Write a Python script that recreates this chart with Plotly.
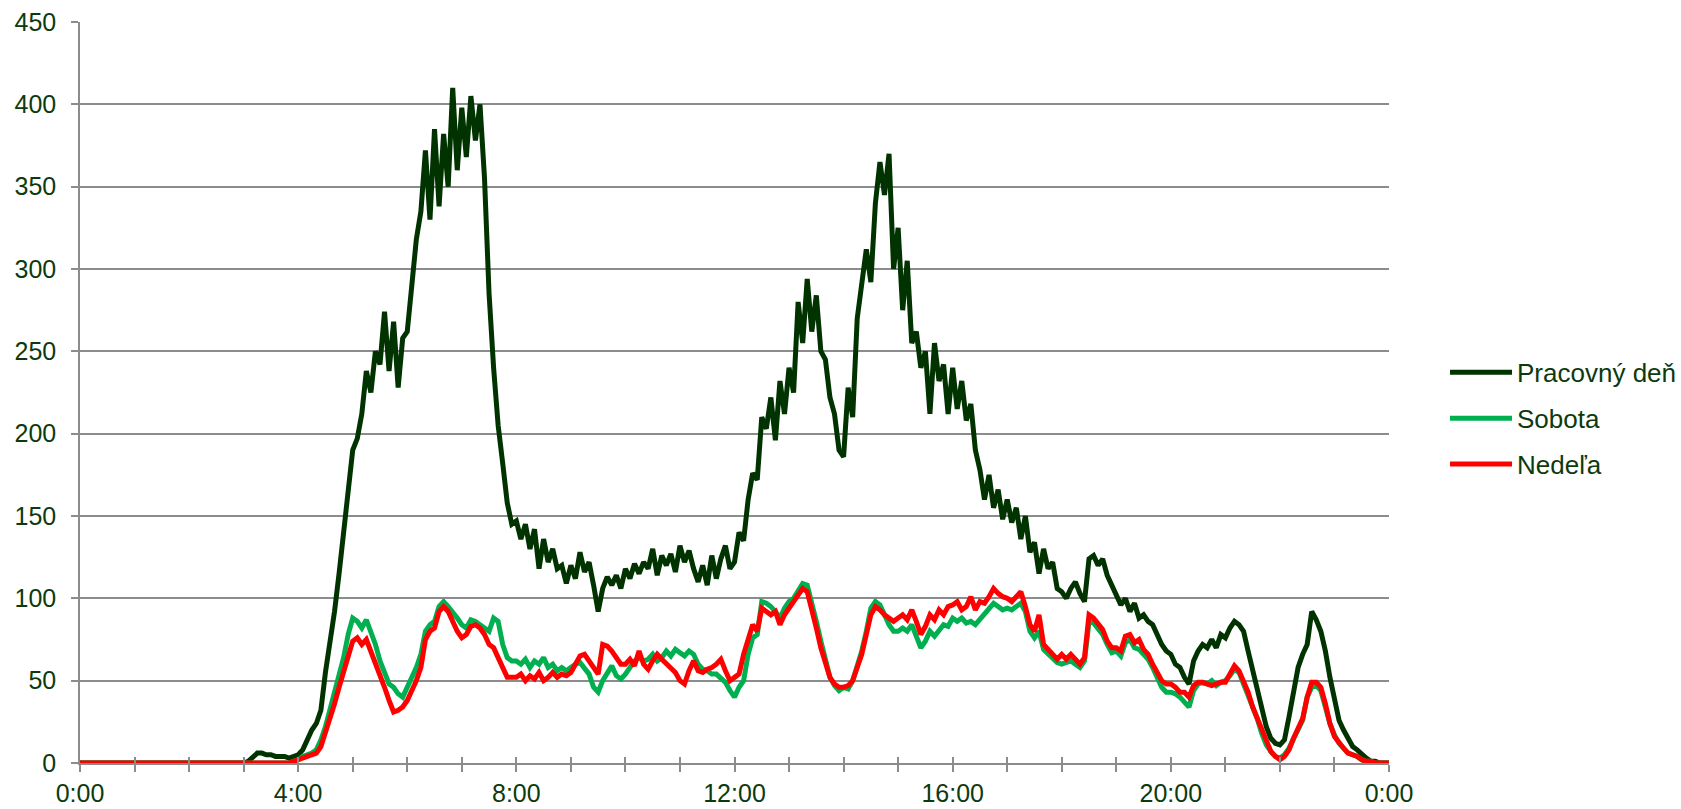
import plotly.graph_objects as go

# 5-minute samples, 12 per hour (:00, :05, ... :55), plus the closing 24:00 point
pracovny_den = [
    0,0,0,0,0,0,0,0,0,0,0,0,                      # 0h
    0,0,0,0,0,0,0,0,0,0,0,0,                      # 1h
    0,0,0,0,0,0,0,0,0,0,0,0,                      # 2h
    0,1,4,6,6,5,5,4,4,4,3,4,                      # 3h
    5,8,14,20,24,32,55,72,92,115,140,168,         # 4h
    190,197,212,238,225,250,242,274,238,268,228,258,  # 5h
    262,290,318,335,372,330,385,338,382,350,410,360,  # 6h
    398,368,405,378,400,355,285,240,205,182,158,145,  # 7h
    147,136,145,130,142,118,136,122,130,118,120,109,  # 8h
    120,112,128,116,122,108,92,106,113,108,114,106,   # 9h
    118,112,121,115,122,118,130,114,126,120,127,116,  # 10h
    132,122,129,118,110,120,108,126,112,124,132,118,  # 11h
    122,140,135,160,176,172,210,203,222,196,232,212,  # 12h
    240,225,280,255,294,262,284,250,245,222,212,190,  # 13h
    186,228,210,270,290,312,292,340,365,345,370,300,  # 14h
    325,275,305,255,262,240,250,212,255,232,242,212,  # 15h
    240,215,232,208,218,190,178,160,175,155,166,148,  # 16h
    160,146,155,136,150,128,134,115,130,118,122,106,  # 17h
    104,100,106,110,103,98,124,126,120,124,114,108,   # 18h
    102,96,100,92,97,88,90,86,84,78,72,68,            # 19h
    66,60,58,52,48,62,68,72,70,75,70,78,              # 20h
    76,82,86,84,80,68,56,44,34,22,15,12,              # 21h
    11,14,28,42,58,66,72,92,87,80,68,52,              # 22h
    38,26,20,15,10,8,5,3,1,1,0,0,                     # 23h
    0,
]

sobota = [
    0,0,0,0,0,0,0,0,0,0,0,0,                      # 0h
    0,0,0,0,0,0,0,0,0,0,0,0,                      # 1h
    0,0,0,0,0,0,0,0,0,0,0,0,                      # 2h
    0,0,0,0,0,0,0,0,0,0,0,1,                      # 3h
    2,4,5,6,8,14,22,32,42,52,64,78,               # 4h
    88,86,82,87,80,72,62,55,48,46,42,40,          # 5h
    46,52,58,66,80,84,86,95,98,95,92,88,          # 6h
    84,82,87,86,84,82,80,88,86,72,64,62,          # 7h
    62,60,63,58,62,60,64,58,60,56,58,56,          # 8h
    58,60,61,58,54,46,43,50,55,59,53,51,          # 9h
    54,58,62,64,62,63,66,62,64,68,65,69,          # 10h
    67,65,68,66,60,57,56,54,54,51,49,44,          # 11h
    40,46,50,66,76,78,98,97,95,92,88,94,          # 12h
    98,100,104,109,108,98,86,74,63,52,47,44,      # 13h
    46,45,50,58,68,80,94,98,96,90,84,80,          # 14h
    80,82,80,84,76,70,74,80,77,81,84,83,          # 15h
    88,86,88,85,86,84,87,90,93,97,95,93,          # 16h
    94,93,95,97,92,80,76,80,69,66,63,61,          # 17h
    60,61,62,60,58,62,86,85,82,78,72,67,          # 18h
    68,65,73,75,70,69,66,63,58,52,46,43,          # 19h
    43,42,40,37,34,44,48,49,48,50,47,49,          # 20h
    50,53,57,55,48,42,35,27,18,11,7,4,            # 21h
    3,5,9,15,20,26,40,46,47,44,34,24,             # 22h
    17,12,9,6,5,4,2,1,1,0,0,0,                    # 23h
    0,
]

nedela = [
    0,0,0,0,0,0,0,0,0,0,0,0,                      # 0h
    0,0,0,0,0,0,0,0,0,0,0,0,                      # 1h
    0,0,0,0,0,0,0,0,0,0,0,0,                      # 2h
    0,0,0,0,0,0,0,0,0,0,0,1,                      # 3h
    2,3,4,5,6,10,18,26,36,46,55,66,               # 4h
    74,76,72,75,68,62,55,46,38,31,32,34,          # 5h
    38,44,50,58,75,80,82,92,95,92,86,80,          # 6h
    76,78,83,84,82,78,72,70,64,57,52,52,          # 7h
    52,54,50,53,51,55,50,52,55,52,54,53,          # 8h
    55,60,65,66,62,57,54,72,71,68,64,60,          # 9h
    60,63,59,68,60,57,62,66,63,60,57,55,          # 10h
    50,48,56,62,56,55,57,58,60,63,56,50,          # 11h
    52,54,66,74,84,80,94,92,90,92,84,90,          # 12h
    94,97,102,106,104,94,82,70,60,52,48,46,       # 13h
    46,47,50,57,66,78,90,95,93,90,88,86,          # 14h
    88,90,87,93,86,78,83,90,87,93,90,95,          # 15h
    96,98,93,95,101,93,98,97,101,106,103,101,     # 16h
    100,98,101,104,95,84,80,90,72,69,66,63,       # 17h
    66,63,66,63,60,64,90,88,85,81,74,70,          # 18h
    70,68,77,78,73,75,69,66,60,55,50,48,          # 19h
    48,46,43,43,40,47,49,49,48,47,48,49,          # 20h
    49,54,59,56,50,43,34,27,19,12,7,4,            # 21h
    2,4,8,15,21,27,40,49,49,46,36,24,             # 22h
    16,12,9,6,5,4,2,1,1,0,0,0,                    # 23h
    0,
]

series_names = ["Pracovný deň", "Sobota", "Nedeľa"]
series_colors = ["#003300", "#00B050", "#FF0000"]
tick_hours = list(range(0, 25))
tick_labels = ["0:00" if h in (0, 24) else (f"{h}:00" if h % 4 == 0 else "") for h in tick_hours]
y_ticks = list(range(0, 451, 50))

hours = [i * 5 / 60 for i in range(len(pracovny_den))]

TEXT = "#0d3a0d"
GRID = "#8c8c8c"
FONT = "Liberation Sans, Arial, sans-serif"

fig = go.Figure()
# empty helper trace so the overlay axis (inner half of the crossing tick marks) is drawn
fig.add_trace(go.Scatter(x=[], y=[], xaxis="x2", yaxis="y", showlegend=False, hoverinfo="skip"))
for name, vals, col in zip(series_names, [pracovny_den, sobota, nedela], series_colors):
    fig.add_trace(go.Scatter(
        x=hours, y=vals, mode="lines", name=name, legendgroup=name,
        line=dict(color=col, width=5),
    ))

fig.update_layout(
    width=1681, height=809,
    paper_bgcolor="white", plot_bgcolor="white",
    margin=dict(l=79.5, r=292, t=22, b=46, autoexpand=False),
    font=dict(family=FONT, size=25, color=TEXT),
    showlegend=True,
    legend=dict(
        x=1.0428, xanchor="left", y=0.465, yanchor="middle",
        font=dict(family=FONT, size=26, color=TEXT),
        tracegroupgap=9, itemwidth=62, bgcolor="rgba(0,0,0,0)",
    ),
    xaxis=dict(
        range=[0, 24], tickmode="array", tickvals=tick_hours, ticktext=tick_labels,
        showgrid=False, zeroline=False, showline=True, linecolor=GRID, linewidth=1.5,
        ticks="outside", ticklen=7, tickwidth=1.5, tickcolor=GRID,
        ticklabeloverflow="allow",
        tickfont=dict(family=FONT, size=25, color=TEXT),
    ),
    xaxis2=dict(
        overlaying="x", anchor="y", side="bottom", matches="x",
        range=[0, 24], tickmode="array", tickvals=tick_hours,
        showticklabels=False, showgrid=False, zeroline=False, showline=False,
        ticks="inside", ticklen=6, tickwidth=1.5, tickcolor=GRID,
    ),
    yaxis=dict(
        range=[0, 450], tickmode="array", tickvals=y_ticks,
        showgrid=True, gridcolor=GRID, gridwidth=1.5, zeroline=False,
        showline=True, linecolor=GRID, linewidth=1.5,
        ticks="outside", ticklen=7, tickwidth=1.5, tickcolor=GRID,
        ticklabelstandoff=10, ticklabeloverflow="allow",
        tickfont=dict(family=FONT, size=25, color=TEXT),
    ),
)

fig.write_html(
    "out.html",
    config={"displayModeBar": False},
    post_script="document.body.style.margin='0';document.body.style.overflow='hidden';",
)
